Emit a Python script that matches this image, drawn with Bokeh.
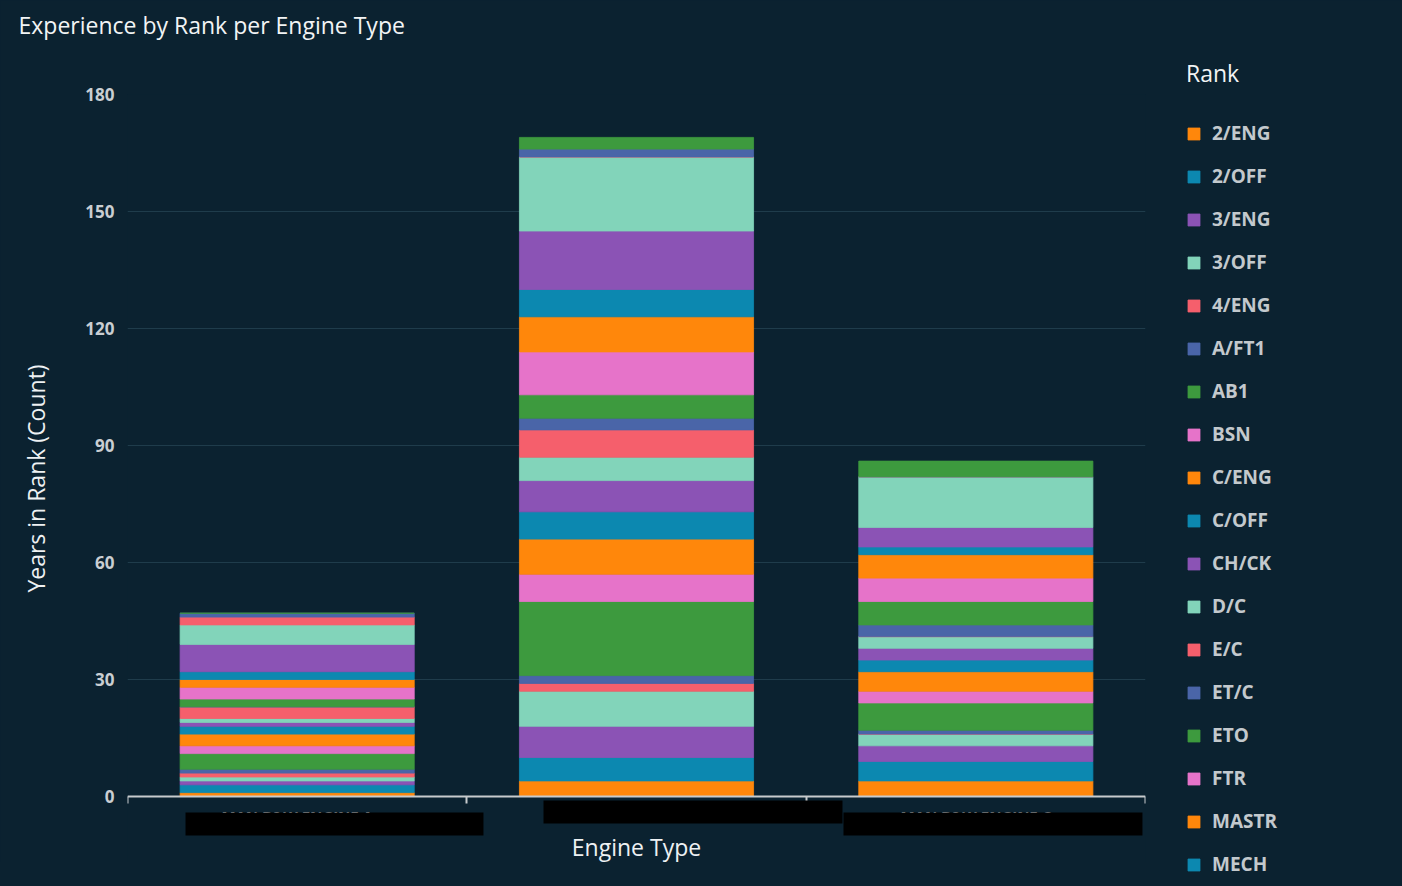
from bokeh.plotting import figure
from bokeh.models import (ColumnDataSource, Range1d, FixedTicker, Legend, LegendItem,
                          Title)
from bokeh.embed import file_html
from bokeh.resources import INLINE

# ---------------- data ----------------
engines = ["MAN B&W ENGINE A", "MAN B&W ENGINE B", "MAN B&W ENGINE C"]
ranks = ["2/ENG", "2/OFF", "3/ENG", "3/OFF", "4/ENG", "A/FT1", "AB1", "BSN",
         "C/ENG", "C/OFF", "CH/CK", "D/C", "E/C", "ET/C", "ETO", "FTR", "MASTR",
         "MECH", "OILER", "OS", "SAB", "SEC", "WPR"]
engine_a = [1, 2, 1, 1, 1, 1, 4, 2, 3, 2, 1, 1, 3, 0, 2, 3, 2, 2, 7, 5, 2, 1, 0]
engine_b = [4, 6, 8, 9, 2, 2, 19, 7, 9, 7, 8, 6, 7, 3, 6, 11, 9, 7, 15, 19, 0, 2, 3]
engine_c = [4, 5, 4, 3, 0, 1, 7, 3, 5, 3, 3, 3, 0, 3, 6, 6, 6, 2, 5, 13, 0, 0, 4]
y_ticks = [0, 30, 60, 90, 120, 150, 180]
legend_shown = 18          # the legend list in the source is scrolled/cut after MECH

palette = ["#FF870B", "#0C88B0", "#8B53B5", "#82D4BA",
           "#F55F6C", "#4A65A8", "#3D9A3E", "#E673C9"]

# redaction bars covering the engine names in the source screenshot
redact_left = [0.171, 1.226, 2.110]
redact_right = [1.049, 2.107, 2.991]
redact_top = [-4.10, -1.03, -4.10]
redact_bottom = [-10.0, -6.92, -10.0]

BG = "#0b2230"
Y_FLOOR = -16.92           # room under the axis for its labels

# ---------------- figure ----------------
centers = [i + 0.5 for i in range(len(engines))]
data = {"x": centers}
for k, r in enumerate(ranks):
    data[r] = [engine_a[k], engine_b[k], engine_c[k]]
source = ColumnDataSource(data)

p = figure(frame_width=1018, frame_height=768, output_backend="svg",
           toolbar_location=None, title=None,
           x_range=Range1d(0, len(engines)), y_range=Range1d(Y_FLOOR, 180),
           min_border_left=127, min_border_right=210, min_border_top=94,
           min_border_bottom=0)
p.background_fill_color = BG
p.border_fill_color = BG
p.outline_line_color = None

colors = [palette[i % len(palette)] for i in range(len(ranks))]
rs = p.vbar_stack(ranks, x="x", width=0.69, color=colors, line_width=0.8,
                  source=source)

# title (a thin spacer title sits between the real title and the frame)
spacer = Title(text=" ", text_font_size="1px", standoff=46)
p.add_layout(spacer, "above")
title = Title(text="Experience by Rank per Engine Type", text_font="Open Sans",
              text_font_size="23px", text_font_style="normal",
              text_color="#f2f4f5", align="left", offset=-109, standoff=10)
p.add_layout(title, "above")

# y axis
p.yaxis.ticker = FixedTicker(ticks=y_ticks)
p.yaxis.axis_line_color = None
p.yaxis.major_tick_line_color = None
p.yaxis.minor_tick_line_color = None
p.yaxis.major_label_standoff = 7
p.yaxis.major_label_text_font = "Open Sans"
p.yaxis.major_label_text_font_size = "17px"
p.yaxis.major_label_text_font_style = "bold"
p.yaxis.major_label_text_color = "#c9ced2"
p.yaxis.axis_label = "Years in Rank (Count)"
p.yaxis.axis_label_text_font = "Open Sans"
p.yaxis.axis_label_text_font_size = "23px"
p.yaxis.axis_label_text_font_style = "normal"
p.yaxis.axis_label_text_color = "#eef1f3"
p.yaxis.axis_label_standoff = 30

# x axis, pinned at y = 0
p.xaxis.fixed_location = 0
p.xaxis.ticker = FixedTicker(ticks=centers, minor_ticks=list(range(len(engines) + 1)))
p.xaxis.major_label_overrides = {c: e for c, e in zip(centers, engines)}
p.xaxis.axis_line_color = "#c8cbcd"
p.xaxis.axis_line_width = 2
p.xaxis.major_tick_line_color = None
p.xaxis.minor_tick_line_color = "#c8cbcd"
p.xaxis.minor_tick_line_width = 2
p.xaxis.minor_tick_out = 7
p.xaxis.minor_tick_in = 0
p.xaxis.major_label_standoff = 2
p.xaxis.major_label_text_font = "Open Sans"
p.xaxis.major_label_text_font_size = "15px"
p.xaxis.major_label_text_font_style = "bold"
p.xaxis.major_label_text_color = "#c9ced2"
p.xaxis.axis_label = "Engine Type"
p.xaxis.axis_label_text_font = "Open Sans"
p.xaxis.axis_label_text_font_size = "23px"
p.xaxis.axis_label_text_font_style = "normal"
p.xaxis.axis_label_text_color = "#eef1f3"
p.xaxis.axis_label_standoff = 2

# grid
p.xgrid.grid_line_color = None
p.ygrid.grid_line_color = "#1f3c4b"
p.ygrid.grid_line_width = 1

# redaction bars (drawn above the axis labels)
p.quad(left=redact_left, right=redact_right, top=redact_top, bottom=redact_bottom,
       fill_color="black", line_color=None, level="overlay")

# legend
items = [LegendItem(label=r, renderers=[g])
         for r, g in zip(ranks[:legend_shown], rs[:legend_shown])]
legend = Legend(items=items, location=(41, -15))
try:
    legend.ncols = 1
    legend.nrows = len(items)
except Exception:
    pass
legend.title = "Rank"
legend.title_text_font = "Open Sans"
legend.title_text_font_size = "23px"
legend.title_text_font_style = "normal"
legend.title_text_color = "#f2f4f5"
legend.title_standoff = 31
legend.label_text_font = "Open Sans"
legend.label_text_font_size = "19px"
legend.label_text_font_style = "bold"
legend.label_text_color = "#c3c9cd"
legend.label_height = 24
legend.label_width = 60
legend.label_standoff = 11
legend.glyph_width = 15
legend.glyph_height = 15
legend.spacing = 17
legend.padding = 0
legend.margin = 0
legend.background_fill_alpha = 0
legend.border_line_color = None
p.add_layout(legend, "right")

html = file_html(p, INLINE)
i = html.rfind("<body")
html = html[:i] + '<body style="background-color:%s"' % BG + html[i + 5:]
open("out.html", "w").write(html)
